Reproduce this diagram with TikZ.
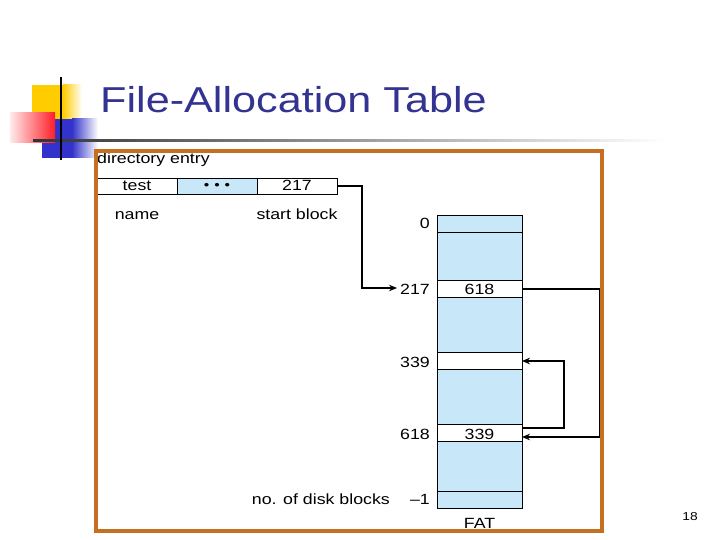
\documentclass[tikz,border=0pt]{standalone}
\usepackage{fontspec}
\setmainfont{Liberation Sans}[FakeStretch=1.2]
\newfontfamily\titlefont{Liberation Sans}[FakeStretch=1.2]
\usetikzlibrary{arrows.meta}
\definecolor{titleblue}{RGB}{51,51,145}
\definecolor{frameorange}{RGB}{196,112,32}
\definecolor{cellblue}{RGB}{200,232,250}
\definecolor{decoyellow}{RGB}{255,204,0}
\definecolor{decored}{RGB}{255,30,40}
\definecolor{decoblue}{RGB}{51,51,204}
\tikzset{
  txt/.style={inner sep=0pt, font=\fontsize{14.8}{17}\selectfont},
  lbl/.style={txt, anchor=base east},
  mid/.style={txt, anchor=base},
  cell/.style={draw=black, line width=0.8pt},
  conn/.style={draw=black, line width=1.7pt},
  tip/.style={-{Stealth[length=8pt,width=6.5pt]}},
}
\begin{document}
\begin{tikzpicture}[x=1pt,y=-1pt]
\useasboundingbox (0,0) rectangle (720,540);
% decoration
\fill[decoyellow] (32,85) rectangle (63,119);
\shade[left color=decoyellow, right color=white] (63,85) rectangle (82,119);
\fill[decoblue] (42,119) rectangle (72,158);
\shade[left color=decoblue, right color=white] (72,119) rectangle (98,158);
\shade[left color=red!8, right color=decored] (10,113) rectangle (55,143);
\shade[left color=black!80, right color=white] (33,140) rectangle (665,142);
\draw[line width=2pt] (61,77) -- (61,160);
% title
\node[anchor=base west, inner sep=0pt, text=titleblue, font=\titlefont\fontsize{36}{40}\selectfont] (title) at (100,113) {File-Allocation Table};
% directory entry
\node[txt, anchor=base west] (dirent) at (97,164) {directory entry};
\node[cell, minimum width=80pt, minimum height=16pt, inner sep=0pt] (test) at (137,186) {};
\node[cell, fill=cellblue, minimum width=80pt, minimum height=16pt, inner sep=0pt] (dots) at (217,186) {};
\node[cell, minimum width=80pt, minimum height=16pt, inner sep=0pt] (sb) at (297,186) {};
\node[mid] (testt) at (137,191) {test};
\node[txt, font=\fontsize{13}{14}\selectfont, anchor=center] (dotst) at (217,186) {•\kern5pt•\kern5pt•};
\node[mid] (sbt) at (297,191) {217};
\node[mid] (name) at (137,219) {name};
\node[mid] (startblock) at (297,219) {start block};
% FAT column
\fill[cellblue] (437,215) rectangle (522,508);
\node[cell, fill=white, minimum width=85pt, minimum height=16.5pt, inner sep=0pt] (r217) at (479.5,289) {};
\node[cell, fill=white, minimum width=85pt, minimum height=16.5pt, inner sep=0pt] (r339) at (479.5,361) {};
\node[cell, fill=white, minimum width=85pt, minimum height=16.5pt, inner sep=0pt] (r618) at (479.5,433) {};
\draw[cell] (437,215) rectangle (522,508);
\draw[cell] (437,232) -- (522,232);
\draw[cell] (437,491) -- (522,491);
\node[mid] (v217) at (479.5,294) {618};
\node[mid] (v618) at (479.5,439) {339};
% left labels
\node[lbl] (l0) at (430,229) {0};
\node[lbl] (l217) at (430,294) {217};
\node[lbl] (l339) at (430,367) {339};
\node[lbl] (l618) at (430,439) {618};
\node[lbl] (lm1) at (430,504) {–1};
\node[lbl] (ndb) at (390,504) {no. of disk blocks};
\node[mid] (fat) at (479.5,528) {FAT};
% connectors
\coordinate (c1) at (362,186);
\coordinate (c2) at (362,288);
\coordinate (c3) at (397,288);
\draw[conn, tip] (sb.east) -- (c1) -- (c2) -- (c3);
\coordinate (d0) at (522,289);
\coordinate (d1) at (600,289);
\coordinate (d2) at (600,437);
\coordinate (d3) at (522,437);
\draw[conn, tip] (d0) -- (d1) -- (d2) -- (d3);
\coordinate (e0) at (522,428);
\coordinate (e1) at (564,428);
\coordinate (e2) at (564,361);
\coordinate (e3) at (522,361);
\draw[conn, tip] (e0) -- (e1) -- (e2) -- (e3);
% frame
\draw[frameorange, line width=3.5pt] (96,151) rectangle (602,531);
% page number
\node[txt, font=\fontsize{11.5}{13}\selectfont, anchor=base] (pg) at (690,520) {18};
\end{tikzpicture}
\end{document}
